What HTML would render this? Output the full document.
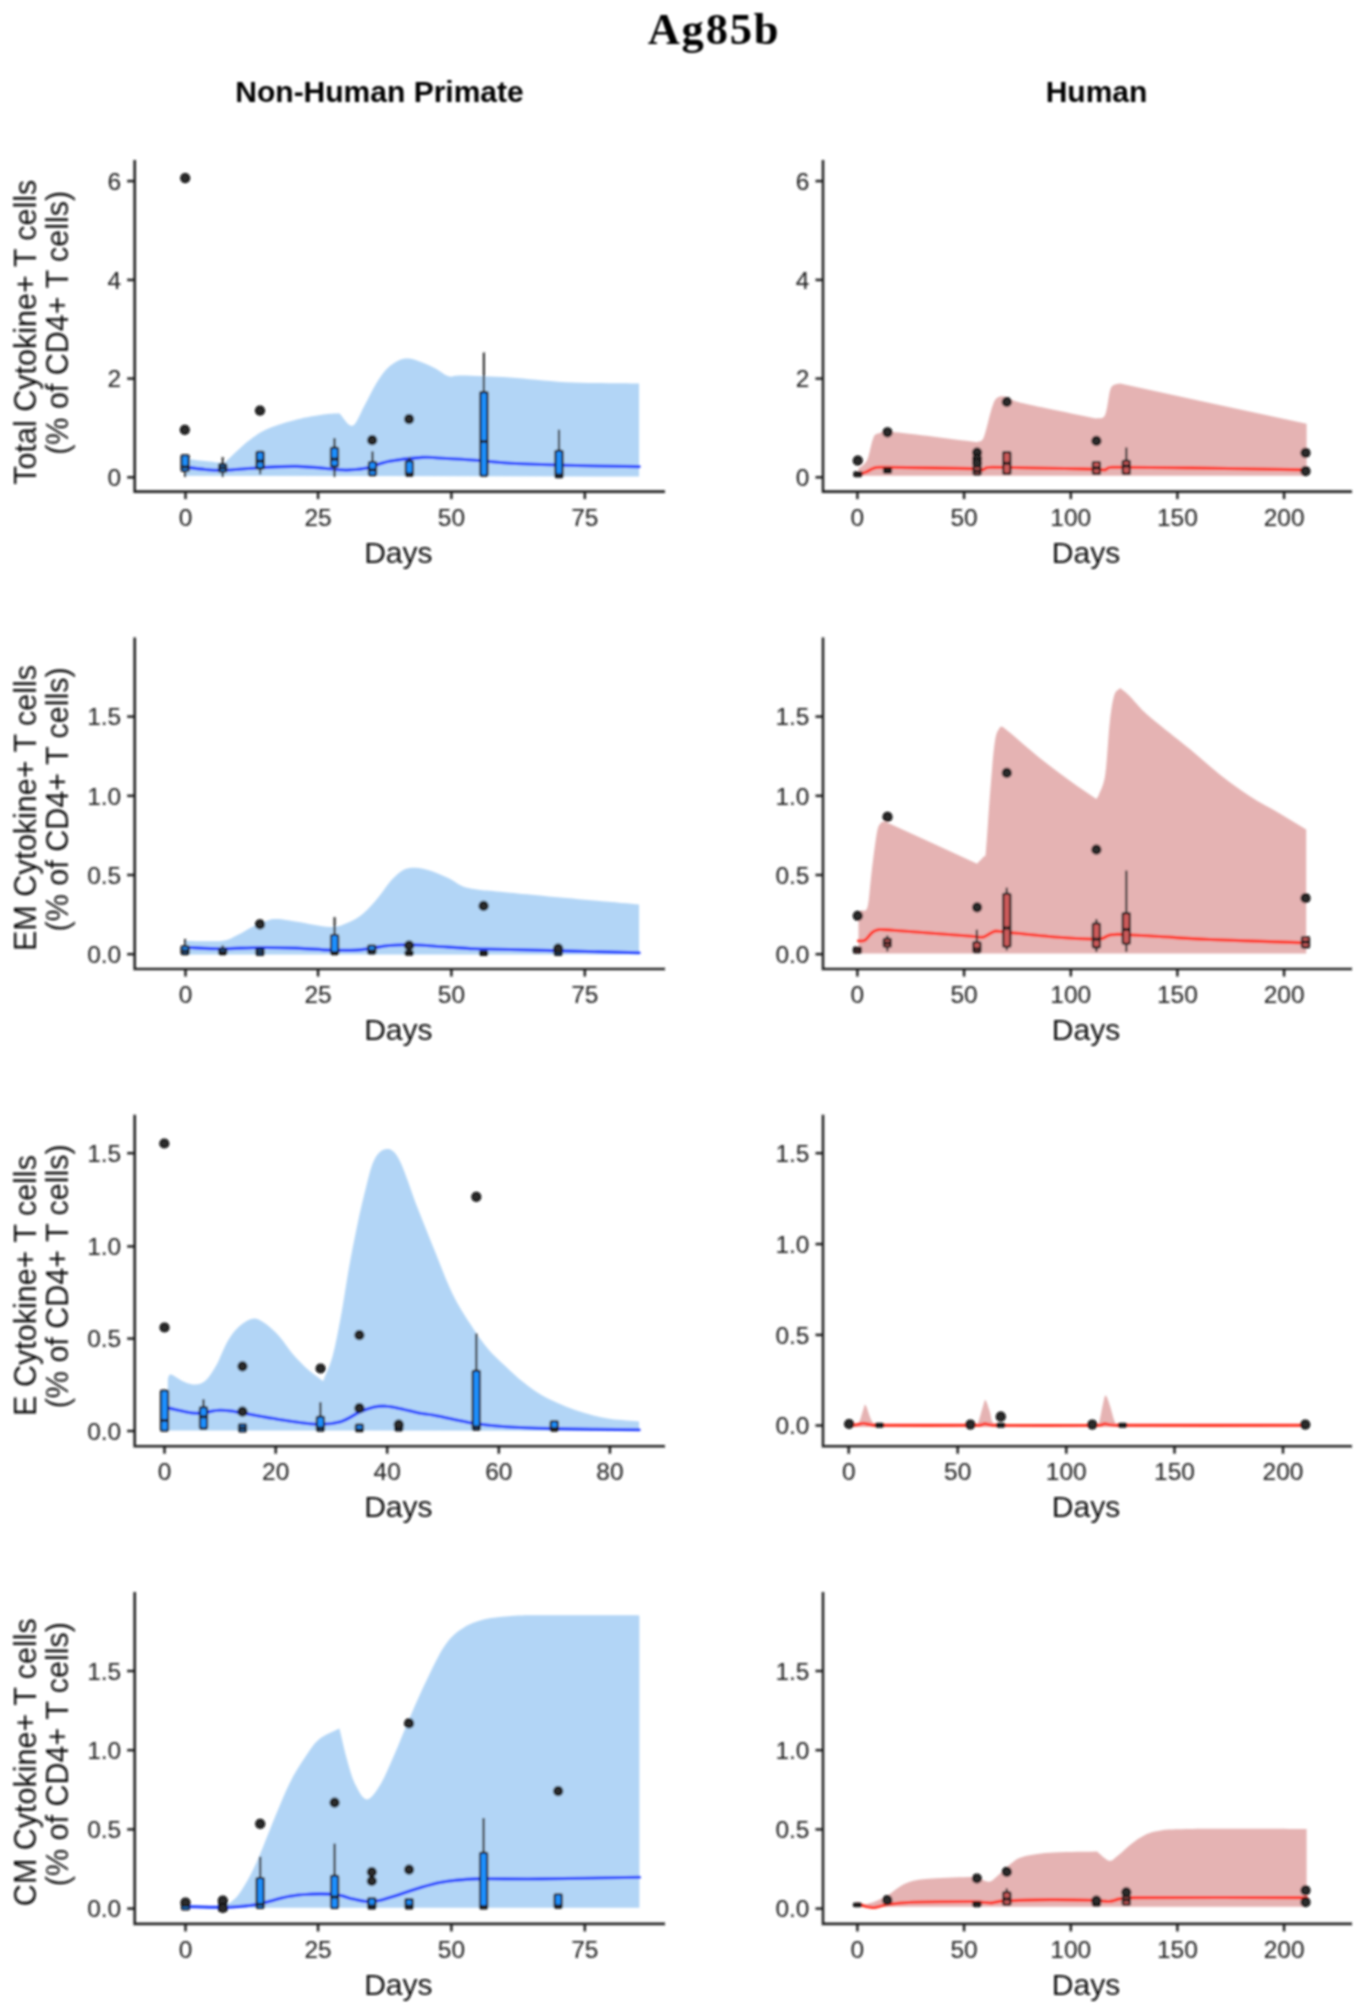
<!DOCTYPE html>
<html><head><meta charset="utf-8"><style>
html,body{margin:0;padding:0;background:#fff;}
body{width:1365px;height:2012px;overflow:hidden;}
svg{display:block;}
.t{font-family:"Liberation Sans",sans-serif;font-size:24.5px;fill:#1a1a1a;}
.a{font-family:"Liberation Sans",sans-serif;font-size:30px;fill:#111;}
</style></head><body>
<svg width="1365" height="2012" viewBox="0 0 1365 2012">
<defs><filter id="bl" x="0" y="0" width="1365" height="2012" filterUnits="userSpaceOnUse"><feGaussianBlur stdDeviation="1.0"/></filter></defs>
<rect width="1365" height="2012" fill="#fff"/>
<g filter="url(#bl)">
<text x="714" y="43.6" text-anchor="middle" font-family="Liberation Serif" font-weight="bold" font-size="44.5" letter-spacing="1.8">Ag85b</text>
<text x="379.5" y="102.2" text-anchor="middle" font-family="Liberation Sans" font-weight="bold" font-size="30">Non-Human Primate</text>
<text x="1096.5" y="102.3" text-anchor="middle" font-family="Liberation Sans" font-weight="bold" font-size="30">Human</text>
<path d="M134.7 160.0 V491.6 H665.0" fill="none" stroke="#202020" stroke-width="2.6" stroke-linejoin="miter"/>
<line x1="127.19999999999999" y1="477.3" x2="134.7" y2="477.3" stroke="#202020" stroke-width="2.5"/>
<text x="121.19999999999999" y="486.1" text-anchor="end" class="t">0</text>
<line x1="127.19999999999999" y1="378.6" x2="134.7" y2="378.6" stroke="#202020" stroke-width="2.5"/>
<text x="121.19999999999999" y="387.40000000000003" text-anchor="end" class="t">2</text>
<line x1="127.19999999999999" y1="279.9" x2="134.7" y2="279.9" stroke="#202020" stroke-width="2.5"/>
<text x="121.19999999999999" y="288.7" text-anchor="end" class="t">4</text>
<line x1="127.19999999999999" y1="181.1" x2="134.7" y2="181.1" stroke="#202020" stroke-width="2.5"/>
<text x="121.19999999999999" y="189.9" text-anchor="end" class="t">6</text>
<line x1="185.5" y1="491.6" x2="185.5" y2="499.1" stroke="#202020" stroke-width="2.5"/>
<text x="185.5" y="525.8000000000001" text-anchor="middle" class="t">0</text>
<line x1="318.1" y1="491.6" x2="318.1" y2="499.1" stroke="#202020" stroke-width="2.5"/>
<text x="318.1" y="525.8000000000001" text-anchor="middle" class="t">25</text>
<line x1="451.4" y1="491.6" x2="451.4" y2="499.1" stroke="#202020" stroke-width="2.5"/>
<text x="451.4" y="525.8000000000001" text-anchor="middle" class="t">50</text>
<line x1="584.8" y1="491.6" x2="584.8" y2="499.1" stroke="#202020" stroke-width="2.5"/>
<text x="584.8" y="525.8000000000001" text-anchor="middle" class="t">75</text>
<text x="398.35" y="562.6" text-anchor="middle" class="a">Days</text>
<path d="M823.0 160.0 V491.6 H1352.0" fill="none" stroke="#202020" stroke-width="2.6" stroke-linejoin="miter"/>
<line x1="815.5" y1="477.3" x2="823.0" y2="477.3" stroke="#202020" stroke-width="2.5"/>
<text x="809.5" y="486.1" text-anchor="end" class="t">0</text>
<line x1="815.5" y1="378.6" x2="823.0" y2="378.6" stroke="#202020" stroke-width="2.5"/>
<text x="809.5" y="387.40000000000003" text-anchor="end" class="t">2</text>
<line x1="815.5" y1="279.9" x2="823.0" y2="279.9" stroke="#202020" stroke-width="2.5"/>
<text x="809.5" y="288.7" text-anchor="end" class="t">4</text>
<line x1="815.5" y1="181.1" x2="823.0" y2="181.1" stroke="#202020" stroke-width="2.5"/>
<text x="809.5" y="189.9" text-anchor="end" class="t">6</text>
<line x1="857.4" y1="491.6" x2="857.4" y2="499.1" stroke="#202020" stroke-width="2.5"/>
<text x="857.4" y="525.8000000000001" text-anchor="middle" class="t">0</text>
<line x1="964.1" y1="491.6" x2="964.1" y2="499.1" stroke="#202020" stroke-width="2.5"/>
<text x="964.1" y="525.8000000000001" text-anchor="middle" class="t">50</text>
<line x1="1070.8" y1="491.6" x2="1070.8" y2="499.1" stroke="#202020" stroke-width="2.5"/>
<text x="1070.8" y="525.8000000000001" text-anchor="middle" class="t">100</text>
<line x1="1177.4" y1="491.6" x2="1177.4" y2="499.1" stroke="#202020" stroke-width="2.5"/>
<text x="1177.4" y="525.8000000000001" text-anchor="middle" class="t">150</text>
<line x1="1284.1" y1="491.6" x2="1284.1" y2="499.1" stroke="#202020" stroke-width="2.5"/>
<text x="1284.1" y="525.8000000000001" text-anchor="middle" class="t">200</text>
<text x="1086.0" y="562.6" text-anchor="middle" class="a">Days</text>
<path d="M134.7 637.4 V969.0 H665.0" fill="none" stroke="#202020" stroke-width="2.6" stroke-linejoin="miter"/>
<line x1="127.19999999999999" y1="954.2" x2="134.7" y2="954.2" stroke="#202020" stroke-width="2.5"/>
<text x="121.19999999999999" y="963.0" text-anchor="end" class="t">0.0</text>
<line x1="127.19999999999999" y1="875.0" x2="134.7" y2="875.0" stroke="#202020" stroke-width="2.5"/>
<text x="121.19999999999999" y="883.8" text-anchor="end" class="t">0.5</text>
<line x1="127.19999999999999" y1="795.8" x2="134.7" y2="795.8" stroke="#202020" stroke-width="2.5"/>
<text x="121.19999999999999" y="804.5999999999999" text-anchor="end" class="t">1.0</text>
<line x1="127.19999999999999" y1="716.6" x2="134.7" y2="716.6" stroke="#202020" stroke-width="2.5"/>
<text x="121.19999999999999" y="725.4" text-anchor="end" class="t">1.5</text>
<line x1="185.5" y1="969.0" x2="185.5" y2="976.5" stroke="#202020" stroke-width="2.5"/>
<text x="185.5" y="1003.2" text-anchor="middle" class="t">0</text>
<line x1="318.1" y1="969.0" x2="318.1" y2="976.5" stroke="#202020" stroke-width="2.5"/>
<text x="318.1" y="1003.2" text-anchor="middle" class="t">25</text>
<line x1="451.4" y1="969.0" x2="451.4" y2="976.5" stroke="#202020" stroke-width="2.5"/>
<text x="451.4" y="1003.2" text-anchor="middle" class="t">50</text>
<line x1="584.8" y1="969.0" x2="584.8" y2="976.5" stroke="#202020" stroke-width="2.5"/>
<text x="584.8" y="1003.2" text-anchor="middle" class="t">75</text>
<text x="398.35" y="1040.0" text-anchor="middle" class="a">Days</text>
<path d="M823.0 637.4 V969.0 H1352.0" fill="none" stroke="#202020" stroke-width="2.6" stroke-linejoin="miter"/>
<line x1="815.5" y1="954.2" x2="823.0" y2="954.2" stroke="#202020" stroke-width="2.5"/>
<text x="809.5" y="963.0" text-anchor="end" class="t">0.0</text>
<line x1="815.5" y1="875.0" x2="823.0" y2="875.0" stroke="#202020" stroke-width="2.5"/>
<text x="809.5" y="883.8" text-anchor="end" class="t">0.5</text>
<line x1="815.5" y1="795.8" x2="823.0" y2="795.8" stroke="#202020" stroke-width="2.5"/>
<text x="809.5" y="804.5999999999999" text-anchor="end" class="t">1.0</text>
<line x1="815.5" y1="716.6" x2="823.0" y2="716.6" stroke="#202020" stroke-width="2.5"/>
<text x="809.5" y="725.4" text-anchor="end" class="t">1.5</text>
<line x1="857.4" y1="969.0" x2="857.4" y2="976.5" stroke="#202020" stroke-width="2.5"/>
<text x="857.4" y="1003.2" text-anchor="middle" class="t">0</text>
<line x1="964.1" y1="969.0" x2="964.1" y2="976.5" stroke="#202020" stroke-width="2.5"/>
<text x="964.1" y="1003.2" text-anchor="middle" class="t">50</text>
<line x1="1070.8" y1="969.0" x2="1070.8" y2="976.5" stroke="#202020" stroke-width="2.5"/>
<text x="1070.8" y="1003.2" text-anchor="middle" class="t">100</text>
<line x1="1177.4" y1="969.0" x2="1177.4" y2="976.5" stroke="#202020" stroke-width="2.5"/>
<text x="1177.4" y="1003.2" text-anchor="middle" class="t">150</text>
<line x1="1284.1" y1="969.0" x2="1284.1" y2="976.5" stroke="#202020" stroke-width="2.5"/>
<text x="1284.1" y="1003.2" text-anchor="middle" class="t">200</text>
<text x="1086.0" y="1040.0" text-anchor="middle" class="a">Days</text>
<path d="M134.7 1114.7 V1446.2 H665.0" fill="none" stroke="#202020" stroke-width="2.6" stroke-linejoin="miter"/>
<line x1="127.19999999999999" y1="1431.0" x2="134.7" y2="1431.0" stroke="#202020" stroke-width="2.5"/>
<text x="121.19999999999999" y="1439.8" text-anchor="end" class="t">0.0</text>
<line x1="127.19999999999999" y1="1338.6" x2="134.7" y2="1338.6" stroke="#202020" stroke-width="2.5"/>
<text x="121.19999999999999" y="1347.3999999999999" text-anchor="end" class="t">0.5</text>
<line x1="127.19999999999999" y1="1246.4" x2="134.7" y2="1246.4" stroke="#202020" stroke-width="2.5"/>
<text x="121.19999999999999" y="1255.2" text-anchor="end" class="t">1.0</text>
<line x1="127.19999999999999" y1="1153.2" x2="134.7" y2="1153.2" stroke="#202020" stroke-width="2.5"/>
<text x="121.19999999999999" y="1162.0" text-anchor="end" class="t">1.5</text>
<line x1="164.5" y1="1446.2" x2="164.5" y2="1453.7" stroke="#202020" stroke-width="2.5"/>
<text x="164.5" y="1480.4" text-anchor="middle" class="t">0</text>
<line x1="275.7" y1="1446.2" x2="275.7" y2="1453.7" stroke="#202020" stroke-width="2.5"/>
<text x="275.7" y="1480.4" text-anchor="middle" class="t">20</text>
<line x1="387.2" y1="1446.2" x2="387.2" y2="1453.7" stroke="#202020" stroke-width="2.5"/>
<text x="387.2" y="1480.4" text-anchor="middle" class="t">40</text>
<line x1="498.8" y1="1446.2" x2="498.8" y2="1453.7" stroke="#202020" stroke-width="2.5"/>
<text x="498.8" y="1480.4" text-anchor="middle" class="t">60</text>
<line x1="609.9" y1="1446.2" x2="609.9" y2="1453.7" stroke="#202020" stroke-width="2.5"/>
<text x="609.9" y="1480.4" text-anchor="middle" class="t">80</text>
<text x="398.35" y="1517.2" text-anchor="middle" class="a">Days</text>
<path d="M823.0 1114.7 V1446.2 H1352.0" fill="none" stroke="#202020" stroke-width="2.6" stroke-linejoin="miter"/>
<line x1="815.5" y1="1425.5" x2="823.0" y2="1425.5" stroke="#202020" stroke-width="2.5"/>
<text x="809.5" y="1434.3" text-anchor="end" class="t">0.0</text>
<line x1="815.5" y1="1334.9" x2="823.0" y2="1334.9" stroke="#202020" stroke-width="2.5"/>
<text x="809.5" y="1343.7" text-anchor="end" class="t">0.5</text>
<line x1="815.5" y1="1244.1" x2="823.0" y2="1244.1" stroke="#202020" stroke-width="2.5"/>
<text x="809.5" y="1252.8999999999999" text-anchor="end" class="t">1.0</text>
<line x1="815.5" y1="1153.2" x2="823.0" y2="1153.2" stroke="#202020" stroke-width="2.5"/>
<text x="809.5" y="1162.0" text-anchor="end" class="t">1.5</text>
<line x1="848.7" y1="1446.2" x2="848.7" y2="1453.7" stroke="#202020" stroke-width="2.5"/>
<text x="848.7" y="1480.4" text-anchor="middle" class="t">0</text>
<line x1="957.7" y1="1446.2" x2="957.7" y2="1453.7" stroke="#202020" stroke-width="2.5"/>
<text x="957.7" y="1480.4" text-anchor="middle" class="t">50</text>
<line x1="1066.3" y1="1446.2" x2="1066.3" y2="1453.7" stroke="#202020" stroke-width="2.5"/>
<text x="1066.3" y="1480.4" text-anchor="middle" class="t">100</text>
<line x1="1174.5" y1="1446.2" x2="1174.5" y2="1453.7" stroke="#202020" stroke-width="2.5"/>
<text x="1174.5" y="1480.4" text-anchor="middle" class="t">150</text>
<line x1="1283.0" y1="1446.2" x2="1283.0" y2="1453.7" stroke="#202020" stroke-width="2.5"/>
<text x="1283.0" y="1480.4" text-anchor="middle" class="t">200</text>
<text x="1086.0" y="1517.2" text-anchor="middle" class="a">Days</text>
<path d="M134.7 1591.9 V1923.9 H665.0" fill="none" stroke="#202020" stroke-width="2.6" stroke-linejoin="miter"/>
<line x1="127.19999999999999" y1="1908.6" x2="134.7" y2="1908.6" stroke="#202020" stroke-width="2.5"/>
<text x="121.19999999999999" y="1917.3999999999999" text-anchor="end" class="t">0.0</text>
<line x1="127.19999999999999" y1="1829.4" x2="134.7" y2="1829.4" stroke="#202020" stroke-width="2.5"/>
<text x="121.19999999999999" y="1838.2" text-anchor="end" class="t">0.5</text>
<line x1="127.19999999999999" y1="1750.2" x2="134.7" y2="1750.2" stroke="#202020" stroke-width="2.5"/>
<text x="121.19999999999999" y="1759.0" text-anchor="end" class="t">1.0</text>
<line x1="127.19999999999999" y1="1671.0" x2="134.7" y2="1671.0" stroke="#202020" stroke-width="2.5"/>
<text x="121.19999999999999" y="1679.8" text-anchor="end" class="t">1.5</text>
<line x1="185.5" y1="1923.9" x2="185.5" y2="1931.4" stroke="#202020" stroke-width="2.5"/>
<text x="185.5" y="1958.1000000000001" text-anchor="middle" class="t">0</text>
<line x1="318.1" y1="1923.9" x2="318.1" y2="1931.4" stroke="#202020" stroke-width="2.5"/>
<text x="318.1" y="1958.1000000000001" text-anchor="middle" class="t">25</text>
<line x1="451.4" y1="1923.9" x2="451.4" y2="1931.4" stroke="#202020" stroke-width="2.5"/>
<text x="451.4" y="1958.1000000000001" text-anchor="middle" class="t">50</text>
<line x1="584.8" y1="1923.9" x2="584.8" y2="1931.4" stroke="#202020" stroke-width="2.5"/>
<text x="584.8" y="1958.1000000000001" text-anchor="middle" class="t">75</text>
<text x="398.35" y="1994.9" text-anchor="middle" class="a">Days</text>
<path d="M823.0 1591.9 V1923.9 H1352.0" fill="none" stroke="#202020" stroke-width="2.6" stroke-linejoin="miter"/>
<line x1="815.5" y1="1908.6" x2="823.0" y2="1908.6" stroke="#202020" stroke-width="2.5"/>
<text x="809.5" y="1917.3999999999999" text-anchor="end" class="t">0.0</text>
<line x1="815.5" y1="1829.4" x2="823.0" y2="1829.4" stroke="#202020" stroke-width="2.5"/>
<text x="809.5" y="1838.2" text-anchor="end" class="t">0.5</text>
<line x1="815.5" y1="1750.2" x2="823.0" y2="1750.2" stroke="#202020" stroke-width="2.5"/>
<text x="809.5" y="1759.0" text-anchor="end" class="t">1.0</text>
<line x1="815.5" y1="1671.0" x2="823.0" y2="1671.0" stroke="#202020" stroke-width="2.5"/>
<text x="809.5" y="1679.8" text-anchor="end" class="t">1.5</text>
<line x1="857.4" y1="1923.9" x2="857.4" y2="1931.4" stroke="#202020" stroke-width="2.5"/>
<text x="857.4" y="1958.1000000000001" text-anchor="middle" class="t">0</text>
<line x1="964.1" y1="1923.9" x2="964.1" y2="1931.4" stroke="#202020" stroke-width="2.5"/>
<text x="964.1" y="1958.1000000000001" text-anchor="middle" class="t">50</text>
<line x1="1070.8" y1="1923.9" x2="1070.8" y2="1931.4" stroke="#202020" stroke-width="2.5"/>
<text x="1070.8" y="1958.1000000000001" text-anchor="middle" class="t">100</text>
<line x1="1177.4" y1="1923.9" x2="1177.4" y2="1931.4" stroke="#202020" stroke-width="2.5"/>
<text x="1177.4" y="1958.1000000000001" text-anchor="middle" class="t">150</text>
<line x1="1284.1" y1="1923.9" x2="1284.1" y2="1931.4" stroke="#202020" stroke-width="2.5"/>
<text x="1284.1" y="1958.1000000000001" text-anchor="middle" class="t">200</text>
<text x="1086.0" y="1994.9" text-anchor="middle" class="a">Days</text>
<path d="M185.5 459.0 C188.8 459.3 198.8 460.3 205.0 461.0 C211.2 461.7 219.6 462.7 222.8 463.0 C224.3 463.3 222.8 465.0 224.3 463.0 C226.7 461.0 232.6 454.9 237.0 451.0 C241.4 447.1 245.5 443.0 250.7 439.3 C255.8 435.6 260.2 432.1 267.9 428.8 C275.6 425.5 287.7 422.0 296.9 419.6 C306.1 417.2 316.1 415.7 323.2 414.6 C330.2 413.5 333.9 413.7 339.2 413.2 C343.6 417.4 348.2 426.9 352.4 425.7 C356.6 424.5 360.3 412.9 364.3 405.9 C368.3 398.9 372.5 389.6 376.2 383.5 C379.9 377.4 383.0 372.9 386.7 369.0 C390.4 365.1 394.9 362.1 398.6 360.4 C402.3 358.6 405.2 358.2 409.1 358.5 C413.1 358.8 417.9 360.8 422.3 362.4 C426.7 364.0 431.1 366.1 435.5 368.4 C439.9 370.7 444.3 375.1 448.7 376.3 C453.1 377.5 451.7 375.4 461.9 375.6 C472.1 375.8 492.7 376.5 510.0 377.6 C527.3 378.7 544.4 381.2 565.9 382.2 C587.4 383.2 626.9 383.3 639.1 383.5 L639.1 476.5 L185.5 475.8 Z" fill="#b2d5f6"/>
<path d="M185.5 467.0 C188.8 467.4 198.8 468.9 205.0 469.5 C211.2 470.1 213.6 470.6 222.8 470.3 C232.0 470.0 247.7 468.4 260.0 467.7 C272.4 467.0 283.6 466.1 296.9 466.4 C310.2 466.7 331.2 469.1 340.0 469.7 C348.8 470.3 345.3 470.2 349.8 469.9 C354.3 469.6 360.3 469.3 366.9 467.9 C373.5 466.5 380.1 463.1 389.3 461.3 C398.5 459.6 414.2 457.9 422.3 457.4 C430.4 456.8 431.5 457.7 438.1 458.0 C444.7 458.3 454.6 458.9 461.9 459.3 C469.2 459.8 473.7 460.0 481.7 460.7 C489.7 461.4 496.0 462.5 510.0 463.3 C524.0 464.1 544.4 464.8 565.9 465.3 C587.4 465.9 626.9 466.4 639.1 466.6" fill="none" stroke="#2040ff" stroke-width="3.1" stroke-linejoin="round" stroke-linecap="round"/>
<line x1="185.1" y1="455.2" x2="185.1" y2="476.9" stroke="#333" stroke-width="2.2"/>
<rect x="181.5" y="455.2" width="7.2" height="15.800000000000011" fill="#1e90ff" stroke="#151515" stroke-width="2.1" rx="1"/>
<line x1="181.5" y1="467" x2="188.7" y2="467" stroke="#1a1a1a" stroke-width="3"/>
<line x1="222.7" y1="457.1" x2="222.7" y2="476.9" stroke="#333" stroke-width="2.2"/>
<rect x="219.1" y="464.4" width="7.2" height="7.300000000000011" fill="#1e90ff" stroke="#151515" stroke-width="2.1" rx="1"/>
<line x1="219.1" y1="468" x2="226.29999999999998" y2="468" stroke="#1a1a1a" stroke-width="3"/>
<line x1="260.1" y1="451.9" x2="260.1" y2="474.3" stroke="#333" stroke-width="2.2"/>
<rect x="256.5" y="451.9" width="7.2" height="16.5" fill="#1e90ff" stroke="#151515" stroke-width="2.1" rx="1"/>
<line x1="256.5" y1="461.1" x2="263.70000000000005" y2="461.1" stroke="#1a1a1a" stroke-width="3"/>
<line x1="334.5" y1="438" x2="334.5" y2="476.9" stroke="#333" stroke-width="2.2"/>
<rect x="330.9" y="447.9" width="7.2" height="18.5" fill="#1e90ff" stroke="#151515" stroke-width="2.1" rx="1"/>
<line x1="330.9" y1="459.1" x2="338.1" y2="459.1" stroke="#1a1a1a" stroke-width="3"/>
<line x1="372.5" y1="451.4" x2="372.5" y2="475.2" stroke="#333" stroke-width="2.2"/>
<rect x="368.9" y="462" width="7.2" height="13.199999999999989" fill="#1e90ff" stroke="#151515" stroke-width="2.1" rx="1"/>
<line x1="368.9" y1="469.9" x2="376.1" y2="469.9" stroke="#1a1a1a" stroke-width="3"/>
<line x1="409.4" y1="457.4" x2="409.4" y2="475.8" stroke="#333" stroke-width="2.2"/>
<rect x="405.79999999999995" y="461.3" width="7.2" height="14.5" fill="#1e90ff" stroke="#151515" stroke-width="2.1" rx="1"/>
<line x1="405.79999999999995" y1="474" x2="413.0" y2="474" stroke="#1a1a1a" stroke-width="3"/>
<line x1="483.9" y1="352.5" x2="483.9" y2="475.8" stroke="#333" stroke-width="2.2"/>
<rect x="480.29999999999995" y="392.1" width="7.2" height="83.69999999999999" fill="#1e90ff" stroke="#151515" stroke-width="2.1" rx="1"/>
<line x1="480.29999999999995" y1="441.5" x2="487.5" y2="441.5" stroke="#1a1a1a" stroke-width="3"/>
<line x1="559" y1="429.7" x2="559" y2="477.2" stroke="#333" stroke-width="2.2"/>
<rect x="555.4" y="450.8" width="7.2" height="26.399999999999977" fill="#1e90ff" stroke="#151515" stroke-width="2.1" rx="1"/>
<line x1="555.4" y1="475" x2="562.6" y2="475" stroke="#1a1a1a" stroke-width="3"/>
<circle cx="185.2" cy="178.1" r="4.3" fill="#2a2a2a" stroke="#0e0e0e" stroke-width="1.6"/>
<circle cx="184.8" cy="429.8" r="4.3" fill="#2a2a2a" stroke="#0e0e0e" stroke-width="1.6"/>
<circle cx="260" cy="410.6" r="4.3" fill="#2a2a2a" stroke="#0e0e0e" stroke-width="1.6"/>
<circle cx="372.2" cy="440.2" r="4.3" fill="#2a2a2a" stroke="#0e0e0e" stroke-width="1.6"/>
<circle cx="409.1" cy="419.1" r="4.3" fill="#2a2a2a" stroke="#0e0e0e" stroke-width="1.6"/>
<path d="M858.5 468.0 C859.1 467.7 860.5 467.6 862.0 466.0 C863.5 464.4 865.9 463.2 867.7 458.7 C869.5 454.2 871.2 443.1 873.0 438.9 C874.8 434.7 874.5 434.7 878.2 433.6 C881.9 432.5 878.9 430.9 895.4 432.3 C911.9 433.7 949.9 438.9 977.1 442.2 C979.3 440.7 981.3 443.2 983.7 437.6 C986.1 432.0 989.5 415.2 991.7 408.6 C993.9 402.0 994.5 400.0 996.9 398.0 C999.3 396.0 1001.8 395.8 1006.2 396.7 C1010.6 397.6 1008.3 399.7 1023.2 403.3 C1038.1 406.9 1071.5 413.4 1095.7 418.5 C1098.8 417.4 1102.6 419.9 1105.0 415.2 C1107.4 410.5 1108.6 395.2 1110.2 390.1 C1111.8 385.0 1112.9 385.9 1114.5 384.8 C1116.1 383.7 1118.2 383.9 1120.0 383.4 C1182.2 396.8 1244.4 410.3 1306.6 423.7 L1306.6 475.8 L858.5 475.8 Z" fill="#e5b3b3"/>
<path d="M859.6 474.0 C860.7 473.6 864.0 472.9 866.4 471.9 C868.8 470.9 871.0 468.7 874.3 467.9 C877.6 467.1 874.3 467.2 886.2 467.3 C902.5 467.4 955.9 468.2 971.9 468.6 C982.4 469.0 979.1 470.1 982.4 469.9 C985.7 469.7 982.4 467.4 991.7 467.3 C1010.6 467.2 1076.8 468.8 1095.7 469.2 C1105.0 469.6 1102.3 470.2 1105.0 469.9 C1107.7 469.6 1105.0 467.6 1112.0 467.3 C1126.2 467.0 1157.6 467.5 1190.0 467.9 C1222.4 468.3 1287.2 469.6 1306.6 469.9" fill="none" stroke="#ff3322" stroke-width="3.1" stroke-linejoin="round" stroke-linecap="round"/>
<line x1="857.8" y1="472.3" x2="857.8" y2="476.3" stroke="#333" stroke-width="2.2"/>
<rect x="854.1999999999999" y="472.3" width="7.2" height="4.0" fill="#cd5c5c" stroke="#151515" stroke-width="2.1" rx="1"/>
<line x1="854.1999999999999" y1="474.3" x2="861.4" y2="474.3" stroke="#1a1a1a" stroke-width="3"/>
<line x1="887.5" y1="468.3" x2="887.5" y2="472.8" stroke="#333" stroke-width="2.2"/>
<rect x="883.9" y="468.3" width="7.2" height="4.5" fill="#cd5c5c" stroke="#151515" stroke-width="2.1" rx="1"/>
<line x1="883.9" y1="470.6" x2="891.1" y2="470.6" stroke="#1a1a1a" stroke-width="3"/>
<line x1="977.1" y1="466" x2="977.1" y2="474.5" stroke="#333" stroke-width="2.2"/>
<rect x="973.5" y="466" width="7.2" height="8.5" fill="#cd5c5c" stroke="#151515" stroke-width="2.1" rx="1"/>
<line x1="973.5" y1="471" x2="980.7" y2="471" stroke="#1a1a1a" stroke-width="3"/>
<line x1="1006.8" y1="452.1" x2="1006.8" y2="473.9" stroke="#333" stroke-width="2.2"/>
<rect x="1003.1999999999999" y="452.1" width="7.2" height="21.799999999999955" fill="#cd5c5c" stroke="#151515" stroke-width="2.1" rx="1"/>
<line x1="1003.1999999999999" y1="463.3" x2="1010.4" y2="463.3" stroke="#1a1a1a" stroke-width="3"/>
<line x1="1096.4" y1="462" x2="1096.4" y2="473.9" stroke="#333" stroke-width="2.2"/>
<rect x="1092.8000000000002" y="462" width="7.2" height="11.899999999999977" fill="#cd5c5c" stroke="#151515" stroke-width="2.1" rx="1"/>
<line x1="1092.8000000000002" y1="467.9" x2="1100.0" y2="467.9" stroke="#1a1a1a" stroke-width="3"/>
<line x1="1126.3" y1="447.5" x2="1126.3" y2="473.9" stroke="#333" stroke-width="2.2"/>
<rect x="1122.7" y="460.7" width="7.2" height="13.199999999999989" fill="#cd5c5c" stroke="#151515" stroke-width="2.1" rx="1"/>
<line x1="1122.7" y1="466" x2="1129.8999999999999" y2="466" stroke="#1a1a1a" stroke-width="3"/>
<circle cx="857.8" cy="460.7" r="4.3" fill="#2a2a2a" stroke="#0e0e0e" stroke-width="1.6"/>
<circle cx="887.5" cy="432.3" r="4.3" fill="#2a2a2a" stroke="#0e0e0e" stroke-width="1.6"/>
<circle cx="977.1" cy="452.5" r="4.3" fill="#2a2a2a" stroke="#0e0e0e" stroke-width="1.6"/>
<circle cx="977.1" cy="458.5" r="4.3" fill="#2a2a2a" stroke="#0e0e0e" stroke-width="1.6"/>
<circle cx="977.1" cy="463" r="4.3" fill="#2a2a2a" stroke="#0e0e0e" stroke-width="1.6"/>
<circle cx="1006.8" cy="402" r="4.3" fill="#2a2a2a" stroke="#0e0e0e" stroke-width="1.6"/>
<circle cx="1096.4" cy="440.9" r="4.3" fill="#2a2a2a" stroke="#0e0e0e" stroke-width="1.6"/>
<circle cx="1305.5" cy="452.8" r="4.3" fill="#2a2a2a" stroke="#0e0e0e" stroke-width="1.6"/>
<circle cx="1305.5" cy="471.2" r="4.3" fill="#2a2a2a" stroke="#0e0e0e" stroke-width="1.6"/>
<path d="M185.5 941.0 C191.5 941.0 213.0 941.9 221.7 940.9 C230.4 939.9 232.0 937.5 237.5 935.0 C243.0 932.5 249.6 928.1 254.7 925.7 C259.8 923.3 264.2 921.5 267.9 920.4 C271.6 919.3 272.3 918.9 277.1 919.1 C281.9 919.3 288.1 920.5 296.9 921.8 C305.7 923.1 321.4 926.8 329.8 927.0 C338.2 927.2 341.6 925.3 347.1 923.1 C352.6 920.9 357.7 918.2 363.0 913.8 C368.3 909.4 374.0 902.4 378.8 896.7 C383.6 891.0 387.8 884.1 392.0 879.6 C396.2 875.1 399.9 871.7 403.8 869.7 C407.8 867.7 411.5 867.6 415.7 867.7 C419.9 867.8 423.4 868.5 428.9 870.3 C434.4 872.0 442.1 875.2 448.7 878.2 C455.3 881.2 458.3 885.7 468.5 888.1 C478.7 890.5 481.6 890.0 510.0 892.7 C538.4 895.5 617.6 902.6 639.1 904.6 L639.1 954.5 L185.5 954.5 Z" fill="#b2d5f6"/>
<path d="M190.0 947.5 C195.3 947.7 210.0 948.8 221.7 948.8 C233.4 948.8 247.5 947.6 260.0 947.5 C272.5 947.4 285.2 947.7 296.9 948.1 C308.6 948.5 320.1 949.8 330.0 950.1 C339.9 950.4 349.4 950.4 356.4 950.1 C363.4 949.8 366.7 948.9 372.2 948.1 C377.7 947.3 383.1 946.0 389.3 945.5 C395.5 945.0 401.4 944.7 409.1 944.8 C416.8 944.9 424.5 945.5 435.5 946.2 C446.5 946.9 462.7 948.2 475.1 948.8 C487.5 949.3 482.7 948.8 510.0 949.5 C537.3 950.2 617.6 952.2 639.1 952.8" fill="none" stroke="#2040ff" stroke-width="3.1" stroke-linejoin="round" stroke-linecap="round"/>
<line x1="185.1" y1="938.9" x2="185.1" y2="954.1" stroke="#333" stroke-width="2.2"/>
<rect x="181.5" y="946.2" width="7.2" height="7.899999999999977" fill="#1e90ff" stroke="#151515" stroke-width="2.1" rx="1"/>
<line x1="181.5" y1="951" x2="188.7" y2="951" stroke="#1a1a1a" stroke-width="3"/>
<line x1="222.7" y1="945.5" x2="222.7" y2="954.1" stroke="#333" stroke-width="2.2"/>
<rect x="219.1" y="948.8" width="7.2" height="5.300000000000068" fill="#1e90ff" stroke="#151515" stroke-width="2.1" rx="1"/>
<line x1="219.1" y1="952" x2="226.29999999999998" y2="952" stroke="#1a1a1a" stroke-width="3"/>
<line x1="260" y1="948.8" x2="260" y2="955" stroke="#333" stroke-width="2.2"/>
<rect x="256.4" y="948.8" width="7.2" height="6.2000000000000455" fill="#1e90ff" stroke="#151515" stroke-width="2.1" rx="1"/>
<line x1="256.4" y1="952" x2="263.6" y2="952" stroke="#1a1a1a" stroke-width="3"/>
<line x1="334.6" y1="917.1" x2="334.6" y2="954.1" stroke="#333" stroke-width="2.2"/>
<rect x="331.0" y="935" width="7.2" height="19.100000000000023" fill="#1e90ff" stroke="#151515" stroke-width="2.1" rx="1"/>
<line x1="331.0" y1="952.5" x2="338.20000000000005" y2="952.5" stroke="#1a1a1a" stroke-width="3"/>
<line x1="371.8" y1="945.5" x2="371.8" y2="953.4" stroke="#333" stroke-width="2.2"/>
<rect x="368.2" y="945.5" width="7.2" height="7.899999999999977" fill="#1e90ff" stroke="#151515" stroke-width="2.1" rx="1"/>
<line x1="368.2" y1="951" x2="375.40000000000003" y2="951" stroke="#1a1a1a" stroke-width="3"/>
<line x1="409.1" y1="951.4" x2="409.1" y2="954.7" stroke="#333" stroke-width="2.2"/>
<rect x="405.5" y="951.4" width="7.2" height="3.300000000000068" fill="#1e90ff" stroke="#151515" stroke-width="2.1" rx="1"/>
<line x1="405.5" y1="953" x2="412.70000000000005" y2="953" stroke="#1a1a1a" stroke-width="3"/>
<line x1="483.6" y1="951.4" x2="483.6" y2="955" stroke="#333" stroke-width="2.2"/>
<rect x="480.0" y="951.4" width="7.2" height="3.6000000000000227" fill="#1e90ff" stroke="#151515" stroke-width="2.1" rx="1"/>
<line x1="480.0" y1="953" x2="487.20000000000005" y2="953" stroke="#1a1a1a" stroke-width="3"/>
<line x1="558.2" y1="948" x2="558.2" y2="955" stroke="#333" stroke-width="2.2"/>
<rect x="554.6" y="948" width="7.2" height="7" fill="#1e90ff" stroke="#151515" stroke-width="2.1" rx="1"/>
<line x1="554.6" y1="952" x2="561.8000000000001" y2="952" stroke="#1a1a1a" stroke-width="3"/>
<circle cx="260" cy="924.4" r="4.3" fill="#2a2a2a" stroke="#0e0e0e" stroke-width="1.6"/>
<circle cx="409.1" cy="945.5" r="4.3" fill="#2a2a2a" stroke="#0e0e0e" stroke-width="1.6"/>
<circle cx="483.6" cy="905.9" r="4.3" fill="#2a2a2a" stroke="#0e0e0e" stroke-width="1.6"/>
<circle cx="558.2" cy="948.5" r="4.3" fill="#2a2a2a" stroke="#0e0e0e" stroke-width="1.6"/>
<path d="M858.5 911.0 C859.1 910.9 860.5 911.3 862.0 910.6 C863.5 909.9 866.1 913.0 867.7 906.6 C869.3 900.2 870.1 884.6 871.6 872.3 C873.1 860.0 875.4 840.9 876.9 832.7 C878.4 824.5 879.6 824.8 880.9 822.9 C882.2 821.0 883.5 822.0 884.8 821.5 C915.6 835.6 946.3 849.6 977.1 863.7 C979.3 861.3 982.2 858.7 983.7 856.5 C985.2 854.3 984.9 861.7 986.0 850.5 C987.1 839.3 988.9 807.4 990.4 789.3 C991.9 771.1 993.4 751.8 994.9 741.6 C996.4 731.4 998.1 730.7 999.4 728.2 C1000.6 725.7 1001.4 727.2 1002.4 726.7 C1004.9 728.7 1003.6 727.4 1009.8 732.6 C1016.0 737.8 1029.8 750.0 1039.7 758.0 C1049.7 766.0 1060.1 773.6 1069.5 780.4 C1078.9 787.2 1087.4 792.8 1096.3 799.0 C1097.3 797.3 1097.8 797.9 1099.3 793.8 C1100.8 789.7 1103.5 786.3 1105.3 774.4 C1107.0 762.5 1108.3 735.4 1109.8 722.2 C1111.3 709.0 1112.5 701.1 1114.2 695.4 C1115.9 689.7 1118.2 690.4 1120.2 687.9 C1123.2 690.4 1125.1 691.4 1129.1 695.4 C1133.1 699.4 1138.9 706.8 1144.1 711.8 C1149.2 716.8 1152.4 719.0 1160.0 725.2 C1167.6 731.4 1179.8 740.8 1189.8 749.0 C1199.8 757.2 1209.8 766.6 1219.7 774.4 C1229.7 782.2 1239.6 789.5 1249.5 796.0 C1259.4 802.5 1269.8 807.6 1279.3 813.2 C1288.8 818.8 1297.2 824.1 1306.2 829.6 L1306.2 953.6 L858.5 953.6 Z" fill="#e5b3b3"/>
<path d="M858.5 940.9 C859.6 940.8 862.9 941.5 865.1 940.2 C867.3 938.9 869.4 934.8 871.6 933.0 C873.8 931.2 874.7 930.2 878.2 929.7 C881.7 929.2 878.2 929.2 892.7 930.3 C908.3 931.4 956.7 935.2 971.9 936.3 C983.7 937.4 980.1 937.7 983.7 936.9 C987.3 936.1 990.3 932.6 993.4 931.7 C996.5 930.8 993.4 930.8 1002.4 931.7 C1012.6 932.6 1038.9 935.8 1054.6 937.0 C1070.2 938.2 1088.3 939.0 1096.3 939.2 C1102.3 939.5 1099.8 939.2 1102.3 938.5 C1104.8 937.8 1106.7 935.3 1111.2 934.7 C1115.7 934.1 1121.0 934.4 1129.1 934.7 C1137.2 935.0 1146.5 935.7 1160.0 936.5 C1173.5 937.3 1185.6 938.4 1210.0 939.5 C1234.4 940.6 1290.2 942.3 1306.2 942.9" fill="none" stroke="#ff3322" stroke-width="3.1" stroke-linejoin="round" stroke-linecap="round"/>
<line x1="857.4" y1="947.5" x2="857.4" y2="952.8" stroke="#333" stroke-width="2.2"/>
<rect x="853.8" y="947.5" width="7.2" height="5.2999999999999545" fill="#cd5c5c" stroke="#151515" stroke-width="2.1" rx="1"/>
<line x1="853.8" y1="950" x2="861.0" y2="950" stroke="#1a1a1a" stroke-width="3"/>
<line x1="887.3" y1="935.6" x2="887.3" y2="951.4" stroke="#333" stroke-width="2.2"/>
<rect x="883.6999999999999" y="938.9" width="7.2" height="7.899999999999977" fill="#cd5c5c" stroke="#151515" stroke-width="2.1" rx="1"/>
<line x1="883.6999999999999" y1="943" x2="890.9" y2="943" stroke="#1a1a1a" stroke-width="3"/>
<line x1="976.9" y1="929.7" x2="976.9" y2="952.1" stroke="#333" stroke-width="2.2"/>
<rect x="973.3" y="942.2" width="7.2" height="9.899999999999977" fill="#cd5c5c" stroke="#151515" stroke-width="2.1" rx="1"/>
<line x1="973.3" y1="949" x2="980.5" y2="949" stroke="#1a1a1a" stroke-width="3"/>
<line x1="1006.8" y1="887.7" x2="1006.8" y2="950.4" stroke="#333" stroke-width="2.2"/>
<rect x="1003.1999999999999" y="893.7" width="7.2" height="53.0" fill="#cd5c5c" stroke="#151515" stroke-width="2.1" rx="1"/>
<line x1="1003.1999999999999" y1="928" x2="1010.4" y2="928" stroke="#1a1a1a" stroke-width="3"/>
<line x1="1096.4" y1="919.1" x2="1096.4" y2="951.9" stroke="#333" stroke-width="2.2"/>
<rect x="1092.8000000000002" y="923.5" width="7.2" height="23.899999999999977" fill="#cd5c5c" stroke="#151515" stroke-width="2.1" rx="1"/>
<line x1="1092.8000000000002" y1="939.2" x2="1100.0" y2="939.2" stroke="#1a1a1a" stroke-width="3"/>
<line x1="1126.3" y1="870.6" x2="1126.3" y2="951.9" stroke="#333" stroke-width="2.2"/>
<rect x="1122.7" y="913.1" width="7.2" height="30.600000000000023" fill="#cd5c5c" stroke="#151515" stroke-width="2.1" rx="1"/>
<line x1="1122.7" y1="929.5" x2="1129.8999999999999" y2="929.5" stroke="#1a1a1a" stroke-width="3"/>
<line x1="1305.5" y1="937" x2="1305.5" y2="949" stroke="#333" stroke-width="2.2"/>
<rect x="1301.9" y="937" width="7.2" height="10.399999999999977" fill="#cd5c5c" stroke="#151515" stroke-width="2.1" rx="1"/>
<line x1="1301.9" y1="942" x2="1309.1" y2="942" stroke="#1a1a1a" stroke-width="3"/>
<circle cx="857.8" cy="915.8" r="4.3" fill="#2a2a2a" stroke="#0e0e0e" stroke-width="1.6"/>
<circle cx="887.5" cy="816.9" r="4.3" fill="#2a2a2a" stroke="#0e0e0e" stroke-width="1.6"/>
<circle cx="977.1" cy="907.3" r="4.3" fill="#2a2a2a" stroke="#0e0e0e" stroke-width="1.6"/>
<circle cx="1006.8" cy="772.9" r="4.3" fill="#2a2a2a" stroke="#0e0e0e" stroke-width="1.6"/>
<circle cx="1096.4" cy="849.7" r="4.3" fill="#2a2a2a" stroke="#0e0e0e" stroke-width="1.6"/>
<circle cx="1305.5" cy="898.2" r="4.3" fill="#2a2a2a" stroke="#0e0e0e" stroke-width="1.6"/>
<path d="M167.8 1380.0 C168.3 1379.1 168.1 1374.1 170.8 1374.4 C173.5 1374.7 179.8 1380.0 184.0 1381.7 C188.2 1383.4 192.0 1384.8 195.7 1384.6 C199.3 1384.3 202.5 1383.4 205.9 1380.2 C209.3 1377.0 212.5 1372.2 216.2 1365.6 C219.9 1359.0 224.0 1347.3 227.9 1340.7 C231.8 1334.1 235.4 1329.7 239.6 1326.0 C243.8 1322.3 248.7 1319.2 252.8 1318.7 C256.9 1318.2 260.1 1320.2 264.5 1323.1 C268.9 1326.0 274.3 1330.9 279.2 1336.3 C284.1 1341.7 288.9 1349.7 293.8 1355.3 C298.7 1360.9 303.6 1365.7 308.5 1370.0 C313.4 1374.3 318.3 1377.5 323.2 1381.2 C326.4 1372.7 329.8 1366.4 332.7 1355.8 C335.6 1345.2 338.0 1331.9 340.7 1317.6 C343.4 1303.3 346.0 1284.7 348.6 1269.9 C351.2 1255.1 354.0 1241.3 356.6 1228.6 C359.2 1215.9 361.6 1205.0 364.5 1193.6 C367.4 1182.2 370.4 1167.6 374.1 1160.2 C377.8 1152.8 382.6 1149.1 386.8 1149.1 C391.0 1149.1 394.4 1150.4 399.5 1160.2 C404.6 1170.0 411.7 1192.7 417.6 1208.0 C423.6 1223.3 429.4 1237.6 435.2 1252.0 C441.0 1266.4 446.8 1282.2 452.7 1294.2 C458.6 1306.2 464.4 1314.9 470.3 1324.0 C476.2 1333.1 482.0 1341.7 487.9 1348.7 C493.8 1355.7 499.6 1360.7 505.5 1366.2 C511.4 1371.8 517.2 1377.3 523.1 1382.0 C529.0 1386.7 534.8 1390.9 540.6 1394.4 C546.5 1397.9 552.3 1400.6 558.2 1403.2 C564.1 1405.8 569.9 1408.2 575.8 1410.2 C581.7 1412.2 587.5 1413.9 593.4 1415.4 C599.3 1416.9 603.4 1418.0 611.0 1419.0 C618.6 1420.0 634.4 1421.1 639.1 1421.5 L639.1 1430.8 L167.8 1430.5 Z" fill="#b2d5f6"/>
<path d="M169.3 1408.1 C173.7 1408.9 187.4 1412.8 195.7 1413.2 C204.0 1413.6 212.5 1410.5 219.1 1410.3 C225.7 1410.0 226.4 1410.4 235.2 1411.7 C244.0 1413.0 258.5 1416.2 271.9 1418.3 C285.3 1420.4 304.3 1423.6 315.8 1424.2 C327.3 1424.8 333.4 1423.7 340.7 1421.7 C348.0 1419.7 354.1 1414.5 359.7 1412.0 C365.3 1409.5 369.6 1408.0 374.1 1407.0 C378.6 1406.0 382.6 1406.0 386.8 1406.3 C391.0 1406.5 394.2 1407.4 399.5 1408.5 C404.8 1409.6 412.7 1411.8 418.6 1413.0 C424.6 1414.2 426.0 1413.7 435.2 1415.4 C444.4 1417.1 462.1 1421.4 473.8 1423.3 C485.5 1425.2 492.4 1425.9 505.5 1426.8 C518.6 1427.7 530.4 1428.1 552.7 1428.6 C575.0 1429.1 624.7 1429.6 639.1 1429.8" fill="none" stroke="#2040ff" stroke-width="3.1" stroke-linejoin="round" stroke-linecap="round"/>
<line x1="164.5" y1="1390.5" x2="164.5" y2="1430.8" stroke="#333" stroke-width="2.2"/>
<rect x="160.9" y="1390.5" width="7.2" height="40.299999999999955" fill="#1e90ff" stroke="#151515" stroke-width="2.1" rx="1"/>
<line x1="160.9" y1="1420.5" x2="168.1" y2="1420.5" stroke="#1a1a1a" stroke-width="3"/>
<line x1="203.5" y1="1399.3" x2="203.5" y2="1428.6" stroke="#333" stroke-width="2.2"/>
<rect x="199.9" y="1407.3" width="7.2" height="21.299999999999955" fill="#1e90ff" stroke="#151515" stroke-width="2.1" rx="1"/>
<line x1="199.9" y1="1416.8" x2="207.1" y2="1416.8" stroke="#1a1a1a" stroke-width="3"/>
<line x1="242.5" y1="1424.2" x2="242.5" y2="1431.5" stroke="#333" stroke-width="2.2"/>
<rect x="238.9" y="1424.2" width="7.2" height="7.2999999999999545" fill="#1e90ff" stroke="#151515" stroke-width="2.1" rx="1"/>
<line x1="238.9" y1="1428" x2="246.1" y2="1428" stroke="#1a1a1a" stroke-width="3"/>
<line x1="320.4" y1="1402.2" x2="320.4" y2="1430.8" stroke="#333" stroke-width="2.2"/>
<rect x="316.79999999999995" y="1416.8" width="7.2" height="14.0" fill="#1e90ff" stroke="#151515" stroke-width="2.1" rx="1"/>
<line x1="316.79999999999995" y1="1428" x2="324.0" y2="1428" stroke="#1a1a1a" stroke-width="3"/>
<line x1="359.4" y1="1424.6" x2="359.4" y2="1431.2" stroke="#333" stroke-width="2.2"/>
<rect x="355.79999999999995" y="1424.6" width="7.2" height="6.600000000000136" fill="#1e90ff" stroke="#151515" stroke-width="2.1" rx="1"/>
<line x1="355.79999999999995" y1="1430" x2="363.0" y2="1430" stroke="#1a1a1a" stroke-width="3"/>
<line x1="398.7" y1="1423" x2="398.7" y2="1430.5" stroke="#333" stroke-width="2.2"/>
<rect x="395.09999999999997" y="1423" width="7.2" height="7.5" fill="#1e90ff" stroke="#151515" stroke-width="2.1" rx="1"/>
<line x1="395.09999999999997" y1="1428" x2="402.3" y2="1428" stroke="#1a1a1a" stroke-width="3"/>
<line x1="476.3" y1="1333.5" x2="476.3" y2="1429.7" stroke="#333" stroke-width="2.2"/>
<rect x="472.7" y="1370.9" width="7.2" height="58.799999999999955" fill="#1e90ff" stroke="#151515" stroke-width="2.1" rx="1"/>
<line x1="472.7" y1="1427" x2="479.90000000000003" y2="1427" stroke="#1a1a1a" stroke-width="3"/>
<line x1="554.3" y1="1421.3" x2="554.3" y2="1430.6" stroke="#333" stroke-width="2.2"/>
<rect x="550.6999999999999" y="1421.3" width="7.2" height="9.299999999999955" fill="#1e90ff" stroke="#151515" stroke-width="2.1" rx="1"/>
<line x1="550.6999999999999" y1="1428.5" x2="557.9" y2="1428.5" stroke="#1a1a1a" stroke-width="3"/>
<circle cx="164.3" cy="1143.5" r="4.3" fill="#2a2a2a" stroke="#0e0e0e" stroke-width="1.6"/>
<circle cx="164.5" cy="1327.5" r="4.3" fill="#2a2a2a" stroke="#0e0e0e" stroke-width="1.6"/>
<circle cx="242.5" cy="1366.3" r="4.3" fill="#2a2a2a" stroke="#0e0e0e" stroke-width="1.6"/>
<circle cx="242.5" cy="1411.7" r="4.3" fill="#2a2a2a" stroke="#0e0e0e" stroke-width="1.6"/>
<circle cx="320.6" cy="1368.5" r="4.3" fill="#2a2a2a" stroke="#0e0e0e" stroke-width="1.6"/>
<circle cx="359.4" cy="1335.1" r="4.3" fill="#2a2a2a" stroke="#0e0e0e" stroke-width="1.6"/>
<circle cx="359.4" cy="1408.2" r="4.3" fill="#2a2a2a" stroke="#0e0e0e" stroke-width="1.6"/>
<circle cx="398.7" cy="1424.5" r="4.3" fill="#2a2a2a" stroke="#0e0e0e" stroke-width="1.6"/>
<circle cx="476.3" cy="1196.8" r="4.3" fill="#2a2a2a" stroke="#0e0e0e" stroke-width="1.6"/>
<path d="M849.0 1425.5 C850.5 1425.3 855.4 1427.0 857.7 1424.5 C860.0 1422.0 861.7 1414.1 862.9 1410.8 C864.1 1407.5 864.2 1405.3 864.9 1404.8 C865.6 1404.3 866.1 1405.8 866.9 1407.8 C867.7 1409.8 869.0 1414.5 869.9 1416.8 C870.8 1419.1 871.2 1420.2 872.2 1421.5 C873.2 1422.8 872.2 1423.8 876.2 1424.5 C893.7 1425.2 960.1 1425.5 977.0 1425.5 C977.7 1425.5 977.0 1427.7 977.7 1424.5 C978.7 1421.3 981.8 1410.2 983.0 1406.2 C984.2 1402.2 984.3 1400.7 985.0 1400.2 C985.7 1399.7 986.2 1401.2 987.0 1403.2 C987.8 1405.2 989.1 1409.2 990.0 1412.2 C990.9 1415.2 991.2 1419.5 992.2 1421.5 C993.2 1423.5 992.2 1423.8 996.2 1424.5 C1013.8 1425.2 1080.9 1425.5 1098.0 1425.5 C1098.9 1425.5 1098.0 1428.5 1098.9 1424.5 C1099.8 1420.5 1102.4 1406.4 1103.5 1401.6 C1104.6 1396.8 1104.8 1396.1 1105.5 1395.6 C1106.2 1395.1 1106.7 1396.6 1107.5 1398.6 C1108.3 1400.6 1109.3 1403.8 1110.5 1407.6 C1111.7 1411.4 1113.3 1418.7 1114.7 1421.5 C1116.1 1424.3 1114.7 1423.8 1118.7 1424.5 C1150.5 1425.2 1274.2 1425.3 1305.3 1425.5 L1305.3 1427.0 L849.0 1427.0 Z" fill="#e5b3b3"/>
<path d="M849.0 1425.3 C850.3 1425.2 854.7 1425.1 857.0 1424.8 C859.3 1424.5 860.8 1423.3 863.0 1423.3 C865.2 1423.2 867.5 1424.2 870.0 1424.5 C872.5 1424.8 870.0 1425.2 878.0 1425.3 C895.8 1425.4 959.2 1425.5 977.0 1425.3 C985.0 1425.0 981.8 1423.8 985.0 1423.8 C988.2 1423.8 985.0 1425.0 996.0 1425.3 C1014.8 1425.5 1079.8 1425.5 1098.0 1425.3 C1105.0 1425.0 1101.7 1423.8 1105.0 1423.8 C1108.3 1423.8 1105.0 1425.0 1118.0 1425.3 C1151.4 1425.5 1274.1 1425.3 1305.3 1425.3" fill="none" stroke="#ff3322" stroke-width="3.1" stroke-linejoin="round" stroke-linecap="round"/>
<line x1="879.5" y1="1423.8" x2="879.5" y2="1426.8" stroke="#333" stroke-width="2.2"/>
<rect x="875.9" y="1423.8" width="7.2" height="3.0" fill="#cd5c5c" stroke="#151515" stroke-width="2.1" rx="1"/>
<line x1="875.9" y1="1425.3" x2="883.1" y2="1425.3" stroke="#1a1a1a" stroke-width="3"/>
<line x1="1000.8" y1="1423.8" x2="1000.8" y2="1426.8" stroke="#333" stroke-width="2.2"/>
<rect x="997.1999999999999" y="1423.8" width="7.2" height="3.0" fill="#cd5c5c" stroke="#151515" stroke-width="2.1" rx="1"/>
<line x1="997.1999999999999" y1="1425.3" x2="1004.4" y2="1425.3" stroke="#1a1a1a" stroke-width="3"/>
<line x1="1122.6" y1="1423.8" x2="1122.6" y2="1426.8" stroke="#333" stroke-width="2.2"/>
<rect x="1119.0" y="1423.8" width="7.2" height="3.0" fill="#cd5c5c" stroke="#151515" stroke-width="2.1" rx="1"/>
<line x1="1119.0" y1="1425.3" x2="1126.1999999999998" y2="1425.3" stroke="#1a1a1a" stroke-width="3"/>
<circle cx="849.1" cy="1424" r="4.3" fill="#2a2a2a" stroke="#0e0e0e" stroke-width="1.6"/>
<circle cx="970.4" cy="1424.6" r="4.3" fill="#2a2a2a" stroke="#0e0e0e" stroke-width="1.6"/>
<circle cx="1000.8" cy="1416.7" r="4.3" fill="#2a2a2a" stroke="#0e0e0e" stroke-width="1.6"/>
<circle cx="1092.3" cy="1424.6" r="4.3" fill="#2a2a2a" stroke="#0e0e0e" stroke-width="1.6"/>
<circle cx="1305.3" cy="1424.6" r="4.3" fill="#2a2a2a" stroke="#0e0e0e" stroke-width="1.6"/>
<path d="M185.5 1906.0 C191.6 1906.0 215.2 1906.2 222.0 1906.0 C226.5 1905.8 223.8 1906.8 226.5 1905.0 C229.2 1903.2 234.4 1899.8 238.3 1894.9 C242.2 1890.0 246.3 1882.7 250.0 1875.8 C253.7 1868.9 256.1 1863.6 260.2 1853.8 C264.3 1844.0 270.0 1828.9 274.9 1817.2 C279.8 1805.5 284.6 1793.3 289.5 1783.5 C294.4 1773.7 299.3 1765.9 304.2 1758.6 C309.1 1751.3 312.9 1744.6 318.8 1739.6 C324.7 1734.6 332.5 1732.3 339.4 1728.6 C341.9 1738.7 344.2 1749.6 346.8 1758.9 C349.4 1768.2 351.8 1777.5 355.2 1784.3 C358.6 1791.1 362.8 1799.5 367.0 1799.5 C371.2 1799.5 376.0 1791.6 380.5 1784.3 C385.0 1777.0 388.9 1767.0 394.0 1755.5 C399.1 1744.0 405.3 1728.0 410.9 1715.0 C416.5 1702.0 422.2 1689.3 427.8 1677.8 C433.4 1666.2 439.1 1653.8 444.7 1645.7 C450.3 1637.6 455.1 1633.2 461.6 1628.9 C468.1 1624.6 475.7 1621.7 483.6 1619.6 C491.5 1617.5 499.6 1616.9 508.9 1616.2 C518.2 1615.5 517.6 1615.4 539.4 1615.3 C561.1 1615.2 622.7 1615.4 639.4 1615.4 L639.4 1907.7 L185.5 1907.7 Z" fill="#b2d5f6"/>
<path d="M185.5 1906.6 C191.6 1906.7 212.1 1907.4 222.1 1907.3 C232.1 1907.2 239.2 1906.5 245.6 1905.9 C251.9 1905.3 252.9 1905.3 260.2 1903.7 C267.5 1902.1 280.9 1897.9 289.5 1896.3 C298.1 1894.7 304.9 1894.5 311.5 1894.1 C318.1 1893.7 324.2 1893.8 329.1 1894.1 C334.0 1894.3 336.7 1894.8 340.8 1895.6 C344.9 1896.4 348.6 1898.1 353.5 1899.1 C358.4 1900.1 364.8 1901.8 370.4 1901.7 C376.0 1901.6 379.7 1900.4 387.3 1898.3 C394.9 1896.2 407.0 1891.7 416.0 1889.0 C425.0 1886.3 431.5 1883.9 441.4 1882.2 C451.2 1880.5 458.7 1879.5 475.1 1878.9 C491.5 1878.4 512.6 1879.2 540.0 1878.9 C567.4 1878.6 622.8 1877.6 639.4 1877.3" fill="none" stroke="#2040ff" stroke-width="3.1" stroke-linejoin="round" stroke-linecap="round"/>
<line x1="185.5" y1="1900.5" x2="185.5" y2="1909.5" stroke="#333" stroke-width="2.2"/>
<rect x="181.9" y="1900.5" width="7.2" height="9.0" fill="#1e90ff" stroke="#151515" stroke-width="2.1" rx="1"/>
<line x1="181.9" y1="1905" x2="189.1" y2="1905" stroke="#1a1a1a" stroke-width="3"/>
<line x1="222.8" y1="1899" x2="222.8" y2="1911" stroke="#333" stroke-width="2.2"/>
<rect x="219.20000000000002" y="1899" width="7.2" height="12" fill="#1e90ff" stroke="#151515" stroke-width="2.1" rx="1"/>
<line x1="219.20000000000002" y1="1905" x2="226.4" y2="1905" stroke="#1a1a1a" stroke-width="3"/>
<line x1="260.2" y1="1856.8" x2="260.2" y2="1908" stroke="#333" stroke-width="2.2"/>
<rect x="256.59999999999997" y="1878" width="7.2" height="30" fill="#1e90ff" stroke="#151515" stroke-width="2.1" rx="1"/>
<line x1="256.59999999999997" y1="1904.4" x2="263.8" y2="1904.4" stroke="#1a1a1a" stroke-width="3"/>
<line x1="334.6" y1="1843.6" x2="334.6" y2="1908" stroke="#333" stroke-width="2.2"/>
<rect x="331.0" y="1875.8" width="7.2" height="32.200000000000045" fill="#1e90ff" stroke="#151515" stroke-width="2.1" rx="1"/>
<line x1="331.0" y1="1897" x2="338.20000000000005" y2="1897" stroke="#1a1a1a" stroke-width="3"/>
<line x1="371.8" y1="1898.3" x2="371.8" y2="1908.4" stroke="#333" stroke-width="2.2"/>
<rect x="368.2" y="1898.3" width="7.2" height="10.100000000000136" fill="#1e90ff" stroke="#151515" stroke-width="2.1" rx="1"/>
<line x1="368.2" y1="1906" x2="375.40000000000003" y2="1906" stroke="#1a1a1a" stroke-width="3"/>
<line x1="409.1" y1="1899.1" x2="409.1" y2="1908.4" stroke="#333" stroke-width="2.2"/>
<rect x="405.5" y="1899.1" width="7.2" height="9.300000000000182" fill="#1e90ff" stroke="#151515" stroke-width="2.1" rx="1"/>
<line x1="405.5" y1="1906" x2="412.70000000000005" y2="1906" stroke="#1a1a1a" stroke-width="3"/>
<line x1="483.6" y1="1818" x2="483.6" y2="1908.4" stroke="#333" stroke-width="2.2"/>
<rect x="480.0" y="1852.7" width="7.2" height="55.700000000000045" fill="#1e90ff" stroke="#151515" stroke-width="2.1" rx="1"/>
<line x1="480.0" y1="1906.5" x2="487.20000000000005" y2="1906.5" stroke="#1a1a1a" stroke-width="3"/>
<line x1="558.2" y1="1894.2" x2="558.2" y2="1907.7" stroke="#333" stroke-width="2.2"/>
<rect x="554.6" y="1894.2" width="7.2" height="13.5" fill="#1e90ff" stroke="#151515" stroke-width="2.1" rx="1"/>
<line x1="554.6" y1="1906" x2="561.8000000000001" y2="1906" stroke="#1a1a1a" stroke-width="3"/>
<circle cx="185.5" cy="1902.5" r="4.3" fill="#2a2a2a" stroke="#0e0e0e" stroke-width="1.6"/>
<circle cx="222.8" cy="1900.5" r="4.3" fill="#2a2a2a" stroke="#0e0e0e" stroke-width="1.6"/>
<circle cx="222.8" cy="1908" r="4.3" fill="#2a2a2a" stroke="#0e0e0e" stroke-width="1.6"/>
<circle cx="260.2" cy="1823.8" r="4.3" fill="#2a2a2a" stroke="#0e0e0e" stroke-width="1.6"/>
<circle cx="334.6" cy="1802.6" r="4.3" fill="#2a2a2a" stroke="#0e0e0e" stroke-width="1.6"/>
<circle cx="371.8" cy="1872" r="4.3" fill="#2a2a2a" stroke="#0e0e0e" stroke-width="1.6"/>
<circle cx="371.8" cy="1881" r="4.3" fill="#2a2a2a" stroke="#0e0e0e" stroke-width="1.6"/>
<circle cx="409.1" cy="1869.6" r="4.3" fill="#2a2a2a" stroke="#0e0e0e" stroke-width="1.6"/>
<circle cx="409.1" cy="1723.4" r="4.3" fill="#2a2a2a" stroke="#0e0e0e" stroke-width="1.6"/>
<circle cx="558.2" cy="1791.1" r="4.3" fill="#2a2a2a" stroke="#0e0e0e" stroke-width="1.6"/>
<path d="M858.0 1905.5 C858.5 1905.5 858.6 1906.0 861.1 1905.5 C863.6 1905.0 868.8 1903.7 873.0 1902.2 C877.2 1900.7 881.8 1898.8 886.2 1896.3 C890.6 1893.8 894.9 1889.5 899.3 1887.0 C903.7 1884.5 907.0 1882.5 912.5 1881.1 C918.0 1879.7 922.4 1879.2 932.3 1878.5 C942.2 1877.8 964.2 1877.2 971.9 1877.1 C978.5 1877.0 976.3 1877.6 978.5 1877.8 C982.0 1879.1 985.7 1882.2 989.0 1881.8 C992.3 1881.4 994.5 1878.3 998.2 1875.2 C1001.9 1872.1 1007.2 1866.4 1011.4 1863.3 C1015.6 1860.2 1016.8 1858.5 1023.2 1856.7 C1029.6 1854.9 1037.3 1853.6 1049.6 1852.7 C1061.9 1851.8 1081.2 1851.8 1097.0 1851.4 C1101.0 1854.5 1105.4 1860.0 1108.9 1860.7 C1112.4 1861.4 1113.7 1858.7 1118.1 1855.4 C1122.5 1852.1 1129.1 1844.9 1135.3 1840.9 C1141.5 1836.9 1146.0 1833.6 1155.1 1831.6 C1164.2 1829.6 1164.8 1829.4 1190.0 1829.0 C1215.2 1828.6 1287.2 1829.0 1306.6 1829.0 L1306.6 1906.8 L858.0 1906.8 Z" fill="#e5b3b3"/>
<path d="M858.0 1904.2 C860.5 1904.8 868.3 1907.4 873.0 1907.5 C877.7 1907.6 879.6 1905.7 886.2 1904.8 C892.8 1903.9 898.2 1902.8 912.5 1902.2 C926.8 1901.7 960.2 1901.5 971.9 1901.5 C982.4 1901.5 979.1 1902.0 982.4 1902.2 C985.7 1902.4 988.0 1903.1 991.7 1902.9 C995.4 1902.7 995.1 1901.5 1004.8 1900.9 C1014.4 1900.4 1035.1 1899.7 1049.6 1899.6 C1064.1 1899.5 1081.9 1899.9 1091.8 1900.2 C1101.7 1900.5 1104.3 1901.7 1108.9 1901.5 C1113.5 1901.3 1115.1 1899.6 1119.5 1898.9 C1123.9 1898.2 1119.5 1897.8 1135.3 1897.6 C1166.5 1897.4 1278.0 1897.6 1306.6 1897.6" fill="none" stroke="#ff3322" stroke-width="3.1" stroke-linejoin="round" stroke-linecap="round"/>
<line x1="857.4" y1="1903.5" x2="857.4" y2="1906.2" stroke="#333" stroke-width="2.2"/>
<rect x="853.8" y="1903.5" width="7.2" height="2.7000000000000455" fill="#cd5c5c" stroke="#151515" stroke-width="2.1" rx="1"/>
<line x1="853.8" y1="1905" x2="861.0" y2="1905" stroke="#1a1a1a" stroke-width="3"/>
<line x1="976.9" y1="1902.2" x2="976.9" y2="1906.2" stroke="#333" stroke-width="2.2"/>
<rect x="973.3" y="1902.2" width="7.2" height="4.0" fill="#cd5c5c" stroke="#151515" stroke-width="2.1" rx="1"/>
<line x1="973.3" y1="1904" x2="980.5" y2="1904" stroke="#1a1a1a" stroke-width="3"/>
<line x1="1006.8" y1="1888.4" x2="1006.8" y2="1904.8" stroke="#333" stroke-width="2.2"/>
<rect x="1003.1999999999999" y="1892.3" width="7.2" height="12.5" fill="#cd5c5c" stroke="#151515" stroke-width="2.1" rx="1"/>
<line x1="1003.1999999999999" y1="1899" x2="1010.4" y2="1899" stroke="#1a1a1a" stroke-width="3"/>
<line x1="1096.4" y1="1897.6" x2="1096.4" y2="1905.5" stroke="#333" stroke-width="2.2"/>
<rect x="1092.8000000000002" y="1899" width="7.2" height="6.5" fill="#cd5c5c" stroke="#151515" stroke-width="2.1" rx="1"/>
<line x1="1092.8000000000002" y1="1902" x2="1100.0" y2="1902" stroke="#1a1a1a" stroke-width="3"/>
<line x1="1126.3" y1="1896.3" x2="1126.3" y2="1904.8" stroke="#333" stroke-width="2.2"/>
<rect x="1122.7" y="1896.3" width="7.2" height="8.5" fill="#cd5c5c" stroke="#151515" stroke-width="2.1" rx="1"/>
<line x1="1122.7" y1="1900" x2="1129.8999999999999" y2="1900" stroke="#1a1a1a" stroke-width="3"/>
<circle cx="887.3" cy="1900.2" r="4.3" fill="#2a2a2a" stroke="#0e0e0e" stroke-width="1.6"/>
<circle cx="976.9" cy="1878.5" r="4.3" fill="#2a2a2a" stroke="#0e0e0e" stroke-width="1.6"/>
<circle cx="1006.8" cy="1871.9" r="4.3" fill="#2a2a2a" stroke="#0e0e0e" stroke-width="1.6"/>
<circle cx="1096.4" cy="1900.5" r="4.3" fill="#2a2a2a" stroke="#0e0e0e" stroke-width="1.6"/>
<circle cx="1126.3" cy="1892.3" r="4.3" fill="#2a2a2a" stroke="#0e0e0e" stroke-width="1.6"/>
<circle cx="1305.5" cy="1890.3" r="4.3" fill="#2a2a2a" stroke="#0e0e0e" stroke-width="1.6"/>
<circle cx="1305.5" cy="1902.2" r="4.3" fill="#2a2a2a" stroke="#0e0e0e" stroke-width="1.6"/>
<text transform="translate(35.5 332.2) rotate(-90)" text-anchor="middle" class="a" style="font-size:30.5px">Total Cytokine+ T cells</text>
<text transform="translate(68.4 322.8) rotate(-90)" text-anchor="middle" class="a" style="font-size:30.5px">(% of CD4+ T cells)</text>
<text transform="translate(35.5 808.0) rotate(-90)" text-anchor="middle" class="a" style="font-size:30.5px">EM Cytokine+ T cells</text>
<text transform="translate(68.4 799.4) rotate(-90)" text-anchor="middle" class="a" style="font-size:30.5px">(% of CD4+ T cells)</text>
<text transform="translate(35.5 1285.5) rotate(-90)" text-anchor="middle" class="a" style="font-size:30.5px">E Cytokine+ T cells</text>
<text transform="translate(68.4 1276.3) rotate(-90)" text-anchor="middle" class="a" style="font-size:30.5px">(% of CD4+ T cells)</text>
<text transform="translate(35.5 1762.2) rotate(-90)" text-anchor="middle" class="a" style="font-size:30.5px">CM Cytokine+ T cells</text>
<text transform="translate(68.4 1754.2) rotate(-90)" text-anchor="middle" class="a" style="font-size:30.5px">(% of CD4+ T cells)</text>
</g>
</svg></body></html>
